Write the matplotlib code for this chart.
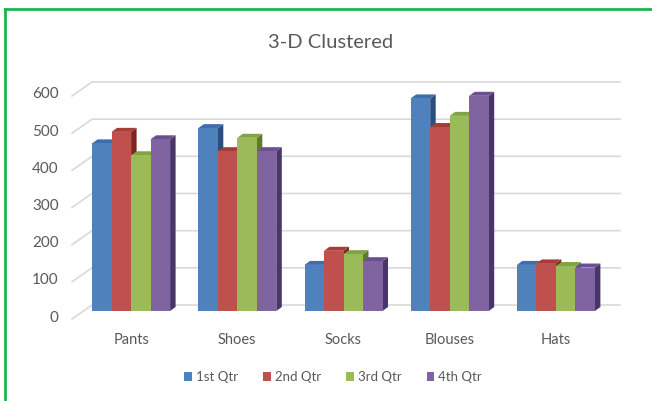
import numpy as np
import matplotlib
matplotlib.use("Agg")
import matplotlib.pyplot as plt
import matplotlib.transforms as mtransforms
from matplotlib.patches import Polygon, Rectangle
from matplotlib.lines import Line2D

categories = ["Pants", "Shoes", "Socks", "Blouses", "Hats"]
series = ["1st Qtr", "2nd Qtr", "3rd Qtr", "4th Qtr"]
q1 = [451, 492, 124, 572, 124]
q2 = [482, 430, 162, 495, 128]
q3 = [419, 466, 153, 525, 121]
q4 = [462, 430, 134, 579, 117]
yticks = [0, 100, 200, 300, 400, 500, 600]

front = ["#4F81BD", "#C0504D", "#9BBB59", "#8064A2"]
top = ["#3E6DAE", "#A83C38", "#80A444", "#6A5091"]
side = ["#2C4E7E", "#7E2522", "#5E7A2E", "#4A3569"]
text_c = "#595959"

plt.rcParams["font.family"] = ["Lato", "DejaVu Sans"]

W, H = 652, 401
base_px = 311
fig = plt.figure(figsize=(W / 100, H / 100), dpi=100)
ax = fig.add_axes([78 / W, (H - base_px) / H, 531 / W, 223 / H])
ax.set_xlim(-0.5, 4.5)
ax.set_ylim(0, 600)

# pixel -> data conversions
px_x = 5 / 531.0
px_y = 600 / 223.0

# back wall gridlines with a slanted left wall
wall_dy = 6 * px_y
for v in yticks:
    ax.add_line(Line2D([-0.5 - 6 * px_x, -0.5 + 14 * px_x, 4.5 + 11 * px_x],
                       [v + wall_dy - 14 * px_y, v + wall_dy, v + wall_dy],
                       color="#d9d9d9", lw=1.2, clip_on=False, zorder=1))

# bars with a small depth
bw = 19.5 * px_x
bdx, bdy = 5.5 * px_x, 4 * px_y
data = [q1, q2, q3, q4]
for c in range(len(categories)):
    for s in range(len(series)):
        h = data[s][c]
        x0 = c - 2 * bw + s * bw
        x1 = x0 + bw
        ax.add_patch(Polygon([[x1, 0], [x1 + bdx, bdy], [x1 + bdx, h + bdy], [x1, h]],
                             closed=True, fc=side[s], ec="none", clip_on=False, zorder=3))
        ax.add_patch(Polygon([[x0, h], [x1, h], [x1 + bdx, h + bdy], [x0 + bdx, h + bdy]],
                             closed=True, fc=top[s], ec="none", clip_on=False, zorder=3))
        ax.add_patch(Rectangle((x0, 0), bw, h, fc=front[s], ec="none",
                               clip_on=False, zorder=3))

ax.set_xticks(range(len(categories)))
ax.set_xticklabels(categories)
ax.set_yticks(yticks)
ax.tick_params(axis="x", length=0, pad=15.5, labelsize=10.5, labelcolor=text_c)
ax.tick_params(axis="y", length=0, pad=14, labelsize=11, labelcolor=text_c)
shift = mtransforms.ScaledTranslation(0, -5 / 100, fig.dpi_scale_trans)
for lab in ax.get_yticklabels():
    lab.set_transform(lab.get_transform() + shift)
for sp in ax.spines.values():
    sp.set_visible(False)
ax.patch.set_alpha(0)

fig.text(331 / W, 1 - 42 / H, "3-D Clustered", ha="center", va="center",
         fontsize=14.5, color=text_c)

handles = [Rectangle((0, 0), 1, 1, fc=front[i], ec="none") for i in range(4)]
fig.legend(handles, series, loc="center", bbox_to_anchor=(333 / W, 1 - 377 / H),
           ncol=4, frameon=False, fontsize=9.5, handlelength=0.6, handleheight=0.6,
           handletextpad=0.3, columnspacing=1.9, labelcolor=text_c)

# green frame (top and left edges)
fig.add_artist(Line2D([5 / W, 5 / W], [0, 1 - 9 / H], color="#1DB34D", lw=2,
                      transform=fig.transFigure))
fig.add_artist(Line2D([5 / W, 1], [1 - 9 / H, 1 - 9 / H], color="#1DB34D", lw=2,
                      transform=fig.transFigure))

fig.savefig("out.png", dpi=100)
